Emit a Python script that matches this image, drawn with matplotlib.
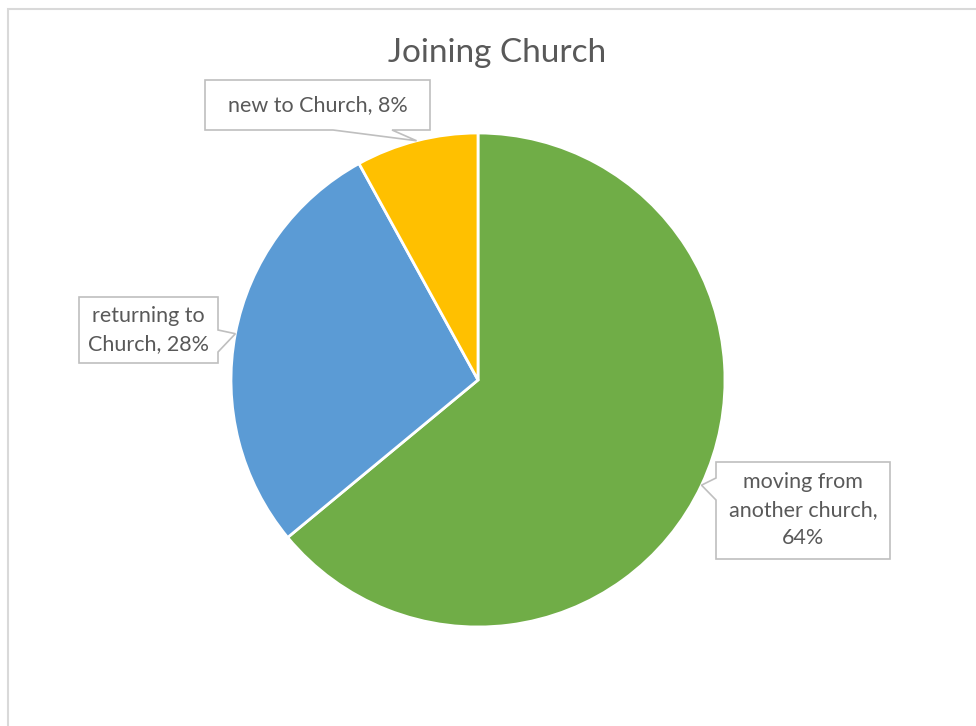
import numpy as np
import matplotlib.pyplot as plt
from matplotlib.patches import Polygon, Rectangle
from matplotlib.transforms import IdentityTransform

plt.rcParams['font.family'] = ['Lato', 'DejaVu Sans']

labels = ['moving from\nanother church', 'returning to\nChurch', 'new to Church']
shares = [64, 28, 8]
colors = ['#70AD47', '#5B9BD5', '#FFC000']
label_sep = [',\n', ', ', ', ']

W, H = 976, 726
fig = plt.figure(figsize=(W / 100, H / 100), dpi=100)

# light frame around the chart area (left and top edges only visible)
fig.add_artist(Rectangle((8, -5), W + 10, H - 9 + 5, transform=IdentityTransform(),
                         fill=False, edgecolor='#d9d9d9', linewidth=1.5))

cx, cy, r = 478, 380, 247
ax = fig.add_axes([(cx - r) / W, (H - cy - r) / H, 2 * r / W, 2 * r / H])
wedges, _ = ax.pie(shares, colors=colors, startangle=90, counterclock=False,
                   wedgeprops=dict(edgecolor='white', linewidth=2))
ax.set_xlim(-1, 1)
ax.set_ylim(-1, 1)
ax.set_aspect('equal')
ax.axis('off')

fig.text(497 / W, 1 - 53 / H, 'Joining Church', ha='center', va='center',
         fontsize=24, color='#595959')

# callout boxes in pixels (left, top, right, bottom) and edge where the pointer sits
boxes = [
    ((716, 462, 890, 559), 'left', (478, 500)),
    ((79, 297, 218, 363), 'right', (330, 352)),
    ((205, 80, 430, 130), 'bottom', (333, 392)),
]


def callout(box, side, base, tip, text):
    x0, y0, x1, y1 = box
    a, b = base
    if side == 'left':
        pts = [(x0, y0), (x1, y0), (x1, y1), (x0, y1), (x0, b), tip, (x0, a)]
    elif side == 'right':
        pts = [(x0, y0), (x1, y0), (x1, a), tip, (x1, b), (x1, y1), (x0, y1)]
    else:
        pts = [(x0, y0), (x1, y0), (x1, y1), (b, y1), tip, (a, y1), (x0, y1)]
    pts = [(px, H - py) for px, py in pts]
    fig.add_artist(Polygon(pts, closed=True, transform=IdentityTransform(),
                           facecolor='white', edgecolor='#bfbfbf', linewidth=1.2))
    fig.text((x0 + x1) / 2 / W, 1 - (y0 + y1) / 2 / H, text, ha='center', va='center',
             fontsize=15.5, color='#595959', linespacing=1.5)


for w, lab, sep, val, (box, side, base) in zip(wedges, labels, label_sep, shares, boxes):
    mid = np.deg2rad((w.theta1 + w.theta2) / 2)
    tx, ty = ax.transData.transform((np.cos(mid), np.sin(mid)))
    callout(box, side, base, (tx, H - ty), f'{lab}{sep}{val}%')

fig.savefig('out.png', dpi=100)
